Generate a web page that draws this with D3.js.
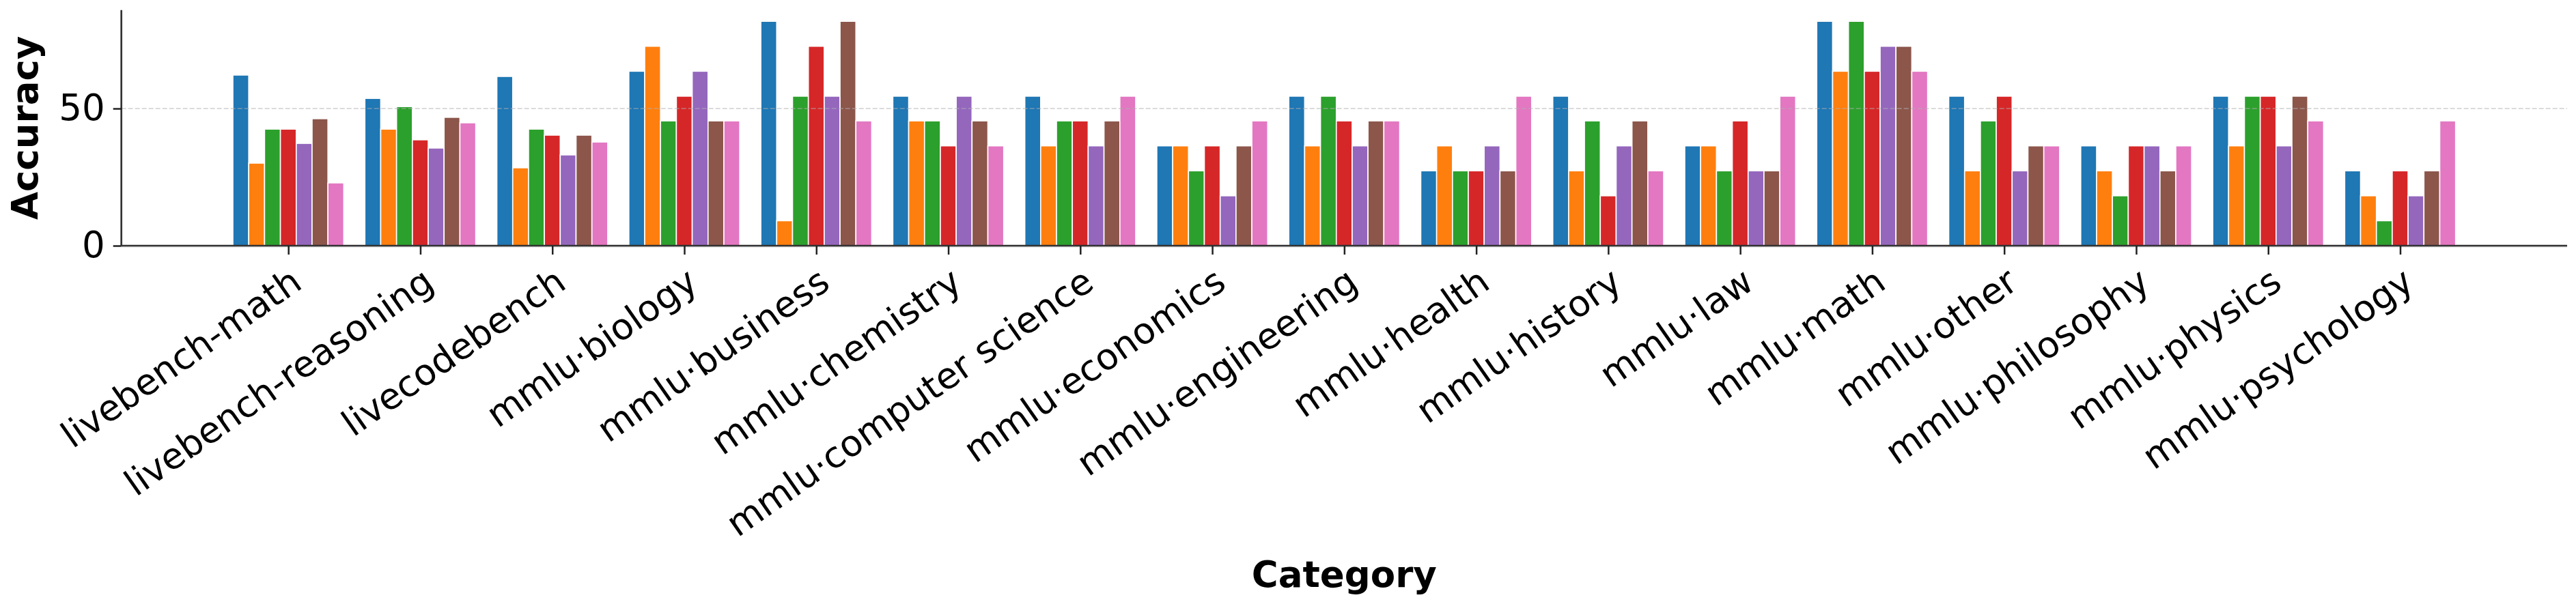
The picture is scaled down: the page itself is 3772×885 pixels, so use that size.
<!DOCTYPE html>
<html>
<head>
<meta charset="utf-8">
<script src="https://cdn.jsdelivr.net/npm/d3@7"></script>
<style>
  body { margin: 0; background: #fff; }
  text { font-family: "DejaVu Sans", sans-serif; }
</style>
</head>
<body>
<script>
'use strict';

// chart data
const categories = ["livebench-math", "livebench-reasoning", "livecodebench", "mmlu·biology",
  "mmlu·business", "mmlu·chemistry", "mmlu·computer science", "mmlu·economics",
  "mmlu·engineering", "mmlu·health", "mmlu·history", "mmlu·law", "mmlu·math",
  "mmlu·other", "mmlu·philosophy", "mmlu·physics", "mmlu·psychology"];

const seriesBlue   = [62.2, 53.7, 61.7, 63.6, 81.8, 54.5, 54.5, 36.4, 54.5, 27.3, 54.5, 36.4, 81.8, 54.5, 36.4, 54.5, 27.3];
const seriesOrange = [30.1, 42.5, 28.4, 72.7, 9.1, 45.5, 36.4, 36.4, 36.4, 36.4, 27.3, 36.4, 63.6, 27.3, 27.3, 36.4, 18.2];
const seriesGreen  = [42.5, 50.7, 42.5, 45.5, 54.5, 45.5, 45.5, 27.3, 54.5, 27.3, 45.5, 27.3, 81.8, 45.5, 18.2, 54.5, 9.1];
const seriesRed    = [42.5, 38.6, 40.3, 54.5, 72.7, 36.4, 45.5, 36.4, 45.5, 27.3, 18.2, 45.5, 63.6, 54.5, 36.4, 54.5, 27.3];
const seriesPurple = [37.3, 35.6, 33.1, 63.6, 54.5, 54.5, 36.4, 18.2, 36.4, 36.4, 36.4, 27.3, 72.7, 27.3, 36.4, 36.4, 18.2];
const seriesBrown  = [46.3, 46.8, 40.3, 45.5, 81.8, 45.5, 45.5, 36.4, 45.5, 27.3, 45.5, 27.3, 72.7, 36.4, 27.3, 54.5, 27.3];
const seriesPink   = [22.9, 44.8, 37.8, 45.5, 45.5, 36.4, 54.5, 45.5, 45.5, 54.5, 27.3, 54.5, 63.6, 36.4, 36.4, 45.5, 45.5];

const yTicks = [0, 50];

// svg size
let width = 3772,
  height = 885;

const series = [seriesBlue, seriesOrange, seriesGreen, seriesRed, seriesPurple, seriesBrown, seriesPink];
const colors = ["#1f77b4", "#ff7f0e", "#2ca02c", "#d62728", "#9467bd", "#8c564b", "#e377c2"];
const barWidth = 0.12;

const svg = d3.select("body")
  .append("svg")
  .attr("width", width)
  .attr("height", height);

// scales (category index on x, accuracy on y)
const x = d3.scaleLinear()
  .domain([-1.265, categories.length - 1 + 1.265])
  .range([177.7, 3759]);

const y = d3.scaleLinear()
  .domain([0, 85.9])
  .range([360, 14.7]);

// bars
series.forEach((vals, s) => {
  svg.append("g")
    .selectAll("rect")
    .data(vals)
    .join("rect")
    .attr("x", (d, i) => x(i + (s - 3) * barWidth - barWidth / 2))
    .attr("width", x(barWidth) - x(0))
    .attr("y", d => y(d))
    .attr("height", d => y(0) - y(d))
    .attr("fill", colors[s])
    .attr("stroke", "#fff")
    .attr("stroke-width", 1.6);
});

// light line under the bottom spine
svg.append("line")
  .attr("x1", x.range()[0]).attr("x2", x.range()[1])
  .attr("y1", y(0) + 1.8).attr("y2", y(0) + 1.8)
  .attr("stroke", "#dddddd")
  .attr("stroke-width", 1.6);

// dashed grid, drawn over the bars
svg.append("g")
  .selectAll("line")
  .data(yTicks.filter(d => d > 0))
  .join("line")
  .attr("x1", x.range()[0]).attr("x2", x.range()[1])
  .attr("y1", d => y(d)).attr("y2", d => y(d))
  .attr("stroke", "#b0b0b0")
  .attr("stroke-opacity", 0.45)
  .attr("stroke-width", 2)
  .attr("stroke-dasharray", "7,3");

// y axis
const yAxis = svg.append("g")
  .attr("transform", `translate(${x.range()[0]},0)`)
  .call(d3.axisLeft(y).tickValues(yTicks).tickSize(12).tickPadding(12).tickFormat(d3.format("d")));
yAxis.select(".domain")
  .attr("d", `M0,${y.range()[1]}V${y.range()[0]}`)
  .attr("stroke", "#333")
  .attr("stroke-width", 2.7);
yAxis.selectAll(".tick line").attr("stroke", "#222").attr("stroke-width", 2.5);
yAxis.selectAll(".tick text")
  .attr("font-size", 53)
  .attr("fill", "#000")
  .style("font-family", "DejaVu Sans");

// x axis
const xAxis = svg.append("g")
  .attr("transform", `translate(0,${y(0)})`)
  .call(d3.axisBottom(x).tickValues(d3.range(categories.length)).tickSize(13).tickFormat(""));
xAxis.select(".domain")
  .attr("d", `M${x.range()[0]},0H${x.range()[1]}`)
  .attr("stroke", "#333")
  .attr("stroke-width", 2.7);
xAxis.selectAll(".tick line").attr("stroke", "#222").attr("stroke-width", 2.5);

// rotated category labels, anchored at their top-right corner
svg.append("g")
  .selectAll("g")
  .data(categories)
  .join("g")
  .attr("transform", (d, i) => `translate(${x(i)},388) rotate(-35)`)
  .append("text")
  .attr("text-anchor", "end")
  .attr("y", 40)
  .attr("font-size", 53)
  .attr("fill", "#000")
  .text(d => d);

// axis titles
svg.append("text")
  .attr("transform", `translate(55,${(y.range()[0] + y.range()[1]) / 2}) rotate(-90)`)
  .attr("text-anchor", "middle")
  .attr("font-size", 53)
  .attr("font-weight", "bold")
  .text("Accuracy");

svg.append("text")
  .attr("x", (x.range()[0] + x.range()[1]) / 2)
  .attr("y", 860)
  .attr("text-anchor", "middle")
  .attr("font-size", 53)
  .attr("font-weight", "bold")
  .text("Category");
</script>
</body>
</html>
